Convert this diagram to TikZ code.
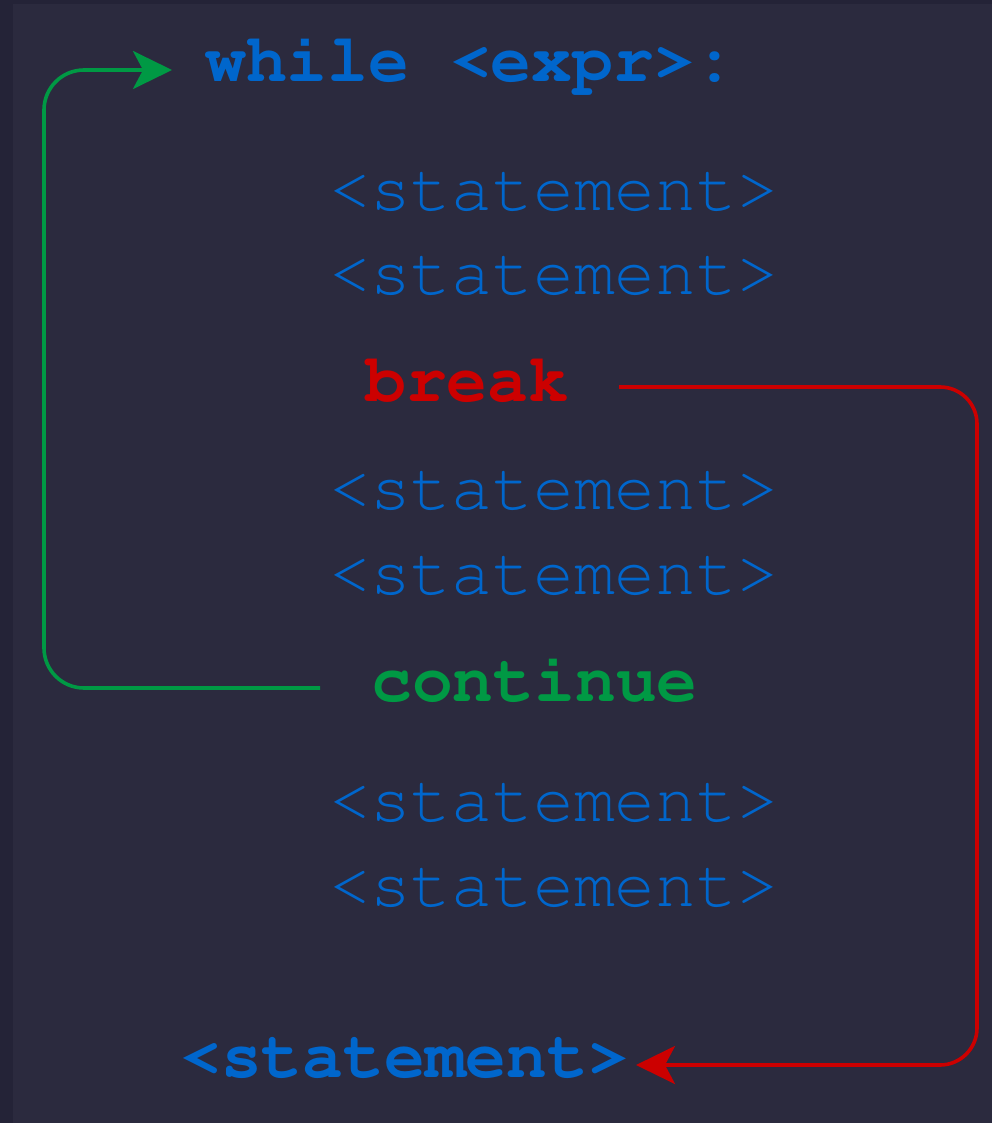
\documentclass[tikz,border=0pt]{standalone}
\usepackage[T1]{fontenc}
\renewcommand{\ttdefault}{pcr}
\usetikzlibrary{arrows.meta}
\definecolor{bgmain}{HTML}{2B2A3E}
\definecolor{bgedge}{HTML}{242337}
\definecolor{codeblue}{HTML}{0066CC}
\definecolor{codered}{HTML}{CC0000}
\definecolor{codegreen}{HTML}{009944}
\tikzset{
  codetext/.style={anchor=base west, inner sep=0pt, font=\ttfamily\fontsize{68}{80}\selectfont},
  boldcode/.style={codetext, font=\ttfamily\bfseries\fontsize{68}{80}\selectfont},
  stmt/.style={codetext, text=codeblue},
  flow/.style={line width=3.6pt, rounded corners=40pt,
    -{Stealth[length=39pt,width=38pt,inset=10pt]}},
}
\begin{document}
\begin{tikzpicture}[x=1pt,y=-1pt]
\useasboundingbox (0,0) rectangle (992,1123);
\fill[bgedge] (0,0) rectangle (992,1123);
\fill[bgmain] (13,4) rectangle (992,1123);

\node[boldcode, text=codeblue] (while) at (205,82) {while <expr>:};
\node[stmt] (s1) at (329,211) {<statement>};
\node[stmt] (s2) at (329,294) {<statement>};
\node[boldcode, text=codered] (brk) at (365,401) {break};
\node[stmt] (s3) at (329,509) {<statement>};
\node[stmt] (s4) at (329,594) {<statement>};
\node[boldcode, text=codegreen] (cont) at (371,701) {continue};
\node[stmt] (s5) at (329,821) {<statement>};
\node[stmt] (s6) at (329,906) {<statement>};
\node[boldcode, text=codeblue] (after) at (180,1077) {<statement>};

\coordinate (gstart) at (320,688);
\coordinate (gend) at (172,70);
\coordinate (rstart) at (619,387);
\coordinate (rend) at (636,1065);

\draw[flow, draw=codegreen] (gstart) -- (44,688) -- (44,70) -- (gend);
\draw[flow, draw=codered, rounded corners=37pt] (rstart) -- (977,387) -- (977,1065) -- (rend);
\end{tikzpicture}
\end{document}
